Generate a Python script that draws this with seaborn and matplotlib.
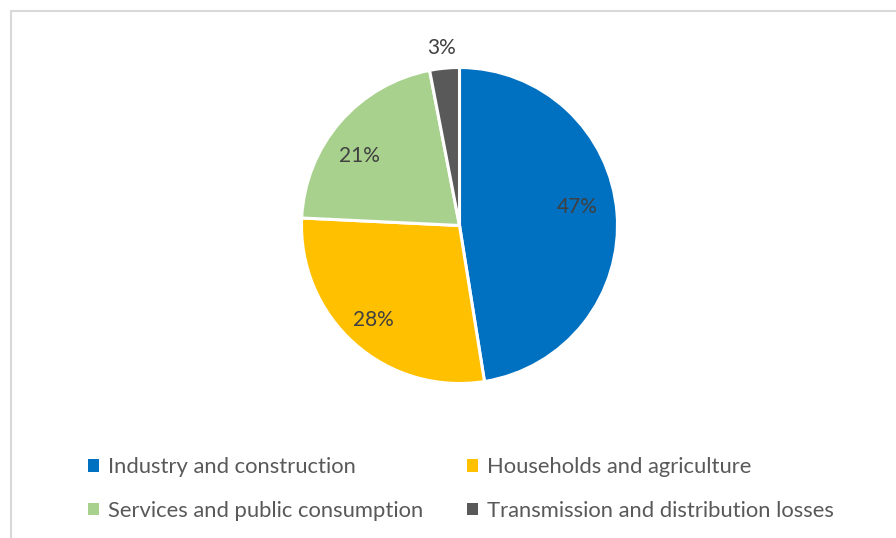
import matplotlib
matplotlib.use("Agg")
import matplotlib.pyplot as plt
from matplotlib.patches import Patch
from matplotlib.lines import Line2D
import numpy as np
import seaborn as sns

# Electricity consumption by sector (share, %)
categories = [
    "Industry and construction",
    "Households and agriculture",
    "Services and public consumption",
    "Transmission and distribution losses",
]
shares = [47, 28, 21, 3]
colors = ["#0070C0", "#FFC000", "#A9D18E", "#595959"]

sns.set_theme(style="white")
plt.rcParams["font.family"] = ["Lato", "DejaVu Sans"]
text_color = "#595959"

W, H = 896, 538
fig = plt.figure(figsize=(W / 100, H / 100), dpi=100)
fig.patch.set_facecolor("white")

# pie placement in pixel terms
cx, cy, R, half = 459.5, 225.5, 158, 175
ax = fig.add_axes([(cx - half) / W, (H - cy - half) / H, 2 * half / W, 2 * half / H])
wedges, _ = ax.pie(
    shares,
    colors=colors,
    startangle=90,
    counterclock=False,
    radius=1.0,
    wedgeprops=dict(edgecolor="white", linewidth=2.2),
)
lim = half / R
ax.set_xlim(-lim, lim)
ax.set_ylim(-lim, lim)
ax.set_aspect("equal")
ax.axis("off")

# percentage labels: (radial distance, angular nudge in degrees) per slice
total = sum(shares)
label_pos = [(0.755, 4.5), (0.81, -0.7), (0.77, 6.3), (1.13, 0.3)]
for w, v, (d, nudge) in zip(wedges, shares, label_pos):
    ang = np.deg2rad((w.theta1 + w.theta2) / 2 + nudge)
    ax.text(d * np.cos(ang), d * np.sin(ang), f"{round(100 * v / total)}%",
            ha="center", va="center", fontsize=15, color="#404040")

# light frame
frame_color = "#D9D9D9"
fig.add_artist(Line2D([10.5 / W, 10.5 / W], [0, 1 - 10.5 / H], transform=fig.transFigure,
                      color=frame_color, lw=1.5))
fig.add_artist(Line2D([10.5 / W, 1], [1 - 10.5 / H, 1 - 10.5 / H], transform=fig.transFigure,
                      color=frame_color, lw=1.5))

# legend: two columns, two rows
order = [0, 2, 1, 3]
handles = [Patch(facecolor=colors[i], edgecolor="none") for i in order]
labels = [categories[i] for i in order]
leg = fig.legend(
    handles, labels, ncol=2, loc="center left",
    bbox_to_anchor=(88 / W, 1 - 489 / H),
    frameon=False, fontsize=15.8, labelcolor=text_color,
    handlelength=0.5, handleheight=0.5, handletextpad=0.4,
    columnspacing=2.0, labelspacing=1.07, borderpad=0, borderaxespad=0,
)

fig.savefig("out.png", dpi=100, facecolor="white")
